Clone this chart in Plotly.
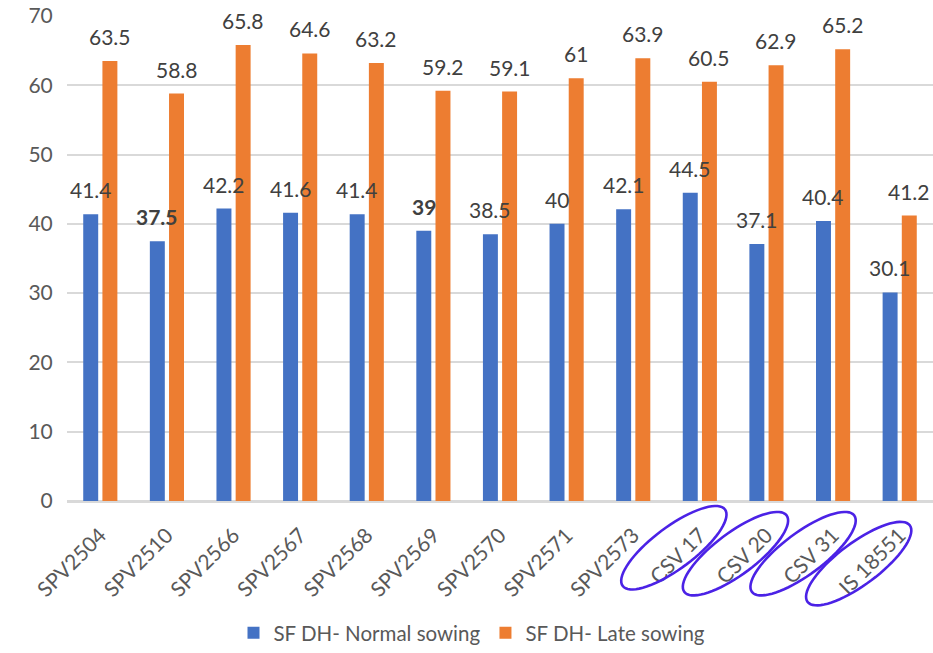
import numpy as np
import plotly.graph_objects as go

# Days to heading (SF DH) for each genotype under two sowing dates
genotypes = ["SPV2504", "SPV2510", "SPV2566", "SPV2567", "SPV2568", "SPV2569",
             "SPV2570", "SPV2571", "SPV2573", "CSV 17", "CSV 20", "CSV 31", "IS 18551"]
normal_sowing = [41.4, 37.5, 42.2, 41.6, 41.4, 39, 38.5, 40, 42.1, 44.5, 37.1, 40.4, 30.1]
late_sowing = [63.5, 58.8, 65.8, 64.6, 63.2, 59.2, 59.1, 61, 63.9, 60.5, 62.9, 65.2, 41.2]
bold_normal = ["SPV2510", "SPV2569"]          # normal-sowing labels shown in bold
circled = ["CSV 17", "CSV 20", "CSV 31", "IS 18551"]  # check varieties ringed on the axis

BLUE, ORANGE = "#4472C4", "#ED7D31"
FONT = "Lato"
W, H = 933, 653
ML, MR, MT, MB = 67, 0, 16, 149
PW, PH = W - ML - MR, H - MT - MB

fig = go.Figure()
fig.add_trace(go.Bar(x=genotypes, y=normal_sowing, name="SF DH- Normal sowing",
                     marker=dict(color=BLUE, line=dict(width=0))))
fig.add_trace(go.Bar(x=genotypes, y=late_sowing, name="SF DH- Late sowing",
                     marker=dict(color=ORANGE, line=dict(width=0))))

def fmt(v):
    return f"{v:g}"

# value labels above each bar
annotations = []
for g, v in zip(genotypes, normal_sowing):
    txt = f"<b>{fmt(v)}</b>" if g in bold_normal else fmt(v)
    annotations.append(dict(x=g, y=v, text=txt, xref="x", yref="y", showarrow=False,
                            xanchor="center", yanchor="bottom", xshift=-9.6, yshift=10,
                            font=dict(family=FONT, size=21, color="#404040")))
for g, v in zip(genotypes, late_sowing):
    annotations.append(dict(x=g, y=v, text=fmt(v), xref="x", yref="y", showarrow=False,
                            xanchor="center", yanchor="bottom", xshift=9.6, yshift=10,
                            font=dict(family=FONT, size=21, color="#404040")))

# tilted rings around the check-variety tick labels (pixel offsets from category centre)
ring_offsets = {"CSV 17": (-26, 47), "CSV 20": (-31, 53), "CSV 31": (-30, 53), "IS 18551": (-41, 63)}
cat_w = PW / len(genotypes)
shapes = []
t = np.linspace(0, 2 * np.pi, 73)
a, b, th = 64, 21, np.deg2rad(37)
for g in circled:
    i = genotypes.index(g)
    dx, dy = ring_offsets[g]
    cx = ML + (i + 0.5) * cat_w + dx
    cy = MT + PH + dy
    px = cx + a * np.cos(t) * np.cos(th) + b * np.sin(t) * np.sin(th)
    py = cy - a * np.cos(t) * np.sin(th) + b * np.sin(t) * np.cos(th)
    xs = (px - ML) / PW
    ys = (MT + PH - py) / PH
    d = "M " + " L ".join(f"{x:.5f},{y:.5f}" for x, y in zip(xs, ys)) + " Z"
    shapes.append(dict(type="path", path=d, xref="paper", yref="paper",
                       line=dict(color="#4B22E6", width=2.6), fillcolor="rgba(0,0,0,0)"))

fig.update_layout(
    width=W, height=H,
    margin=dict(l=ML, r=MR, t=MT, b=MB, pad=0),
    paper_bgcolor="white", plot_bgcolor="white",
    barmode="group", bargap=0.424, bargroupgap=0.22,
    font=dict(family=FONT, size=21, color="#595959"),
    showlegend=True,
    legend=dict(orientation="h", x=(472 - ML) / PW, xanchor="center",
                y=(MT + PH - 637) / PH, yanchor="middle",
                font=dict(family=FONT, size=20.5, color="#595959"),
                itemwidth=30, bgcolor="rgba(0,0,0,0)"),
    annotations=annotations,
    shapes=shapes,
)
fig.update_xaxes(type="category", tickangle=-45, showgrid=False,
                 ticks="outside", ticklen=12, tickcolor="rgba(0,0,0,0)",
                 showline=True, linecolor="#D9D9D9", linewidth=1.5,
                 tickfont=dict(family=FONT, size=21, color="#595959"),
                 automargin=False)
fig.update_yaxes(range=[0, 70], dtick=10, showgrid=True, gridcolor="#D9D9D9", gridwidth=1.5,
                 zeroline=True, zerolinecolor="#D9D9D9", zerolinewidth=1.5,
                 ticks="outside", ticklen=9, tickcolor="rgba(0,0,0,0)", showline=False,
                 tickfont=dict(family=FONT, size=21, color="#595959"),
                 automargin=False)

fig.write_html("out.html")
